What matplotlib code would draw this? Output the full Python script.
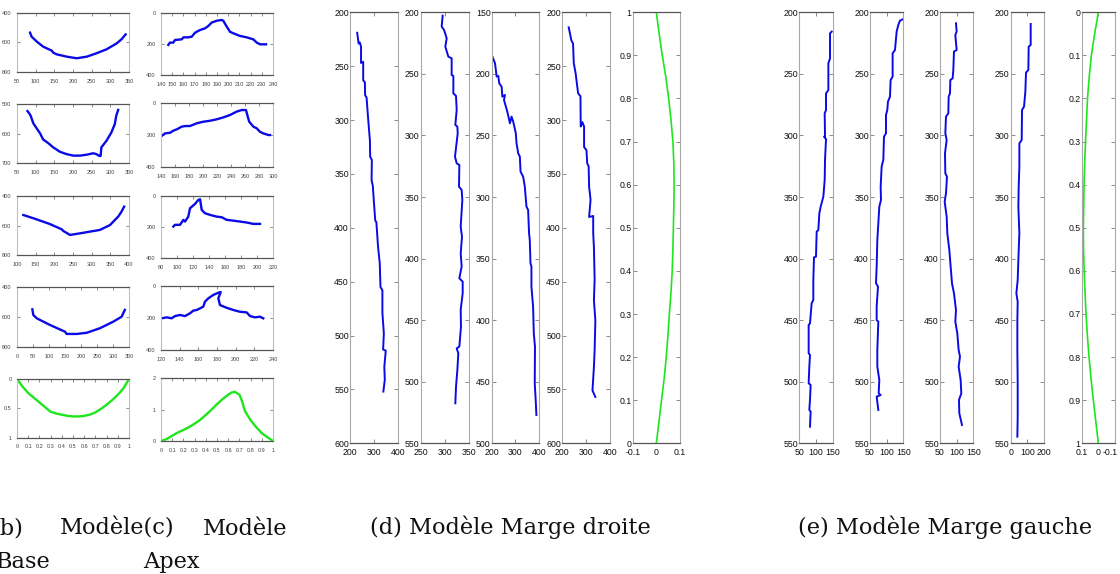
import matplotlib
matplotlib.use("Agg")
import matplotlib.pyplot as plt
import matplotlib.transforms as mtransforms
from matplotlib.ticker import FuncFormatter

plt.rcParams['axes.unicode_minus'] = False

W, H = 1120, 574

# ---------------- data : (b) Modèle Base ----------------
b1_x = [85, 89, 103, 120, 143, 147, 156, 183, 210, 237, 263, 290, 317, 330, 341]
b1_y = [535, 562, 596, 630, 657, 671, 682, 698, 709, 698, 675, 648, 608, 580, 547]
b2_x = [78, 83, 87, 89, 94, 103, 112, 120, 134, 147, 165, 183, 201, 219, 236, 254, 263, 270, 274, 276, 290, 303, 312, 316, 321]
b2_y = [524, 532, 541, 549, 566, 583, 600, 620, 633, 647, 662, 670, 675, 675, 672, 667, 670, 676, 676, 647, 624, 596, 568, 539, 520]
b3_x = [117, 144, 188, 220, 224, 242, 269, 322, 349, 371, 380, 387]
b3_y = [529, 551, 590, 626, 637, 664, 653, 630, 597, 540, 506, 472]
b4_x = [48, 51, 62, 103, 150, 155, 187, 218, 259, 301, 327, 332, 337]
b4_y = [549, 587, 609, 653, 698, 713, 713, 705, 675, 631, 598, 575, 553]
b5_x = [0, 0.05, 0.1, 0.15, 0.2, 0.25, 0.3, 0.35, 0.4, 0.45, 0.5, 0.55, 0.6, 0.65, 0.7, 0.75, 0.8, 0.85, 0.9, 0.95, 1.0]
b5_y = [0, 0.13, 0.24, 0.32, 0.40, 0.48, 0.56, 0.59, 0.61, 0.63, 0.64, 0.64, 0.63, 0.61, 0.57, 0.51, 0.44, 0.36, 0.27, 0.16, 0]

# ---------------- data : (c) Modèle Apex ----------------
c1_x = [146.5, 148, 151, 152.5, 158.5, 160, 164.4, 167.4, 170.4, 174.8, 179.3, 182.2, 185.2, 189.7, 194.2, 195.6, 198.7, 201.6, 204.6, 210.5, 216.5, 222.4, 225.5, 228.4, 233.8]
c1_y = [206, 191, 191, 174, 170, 157, 157, 153, 127, 110, 99, 84, 62, 50, 45, 50, 88, 121, 131, 148, 157, 170, 191, 202, 202]
c2_x = [141, 145.7, 152.9, 157.6, 162.4, 169.6, 174.3, 181.4, 191, 200.4, 210, 219.6, 229, 238.6, 248, 255.3, 261.4, 263.3, 266, 268, 272, 276.7, 281.4, 286.1, 293.3, 295.7]
c2_y = [206, 190, 186, 173, 165, 148, 144, 144, 127, 117, 111, 102, 90, 75, 54, 44, 44, 75, 117, 127, 148, 158, 180, 190, 200, 200]
c3_x = [95.4, 97.5, 103.8, 107.9, 110, 114.1, 116.3, 122.5, 126.6, 128.8, 130.9, 135, 141.3, 149.6, 155.9, 162.1, 170.4, 178.8, 187.1, 195.4, 203.8]
c3_y = [197, 186, 186, 154, 165, 133, 79, 51, 26, 21, 90, 111, 122, 133, 137, 154, 159, 165, 171, 180, 180]
c4_x = [120.7, 126, 131.4, 135, 140.3, 145.7, 151, 154.6, 158.2, 161.8, 165.3, 167.1, 170.7, 176, 181.4, 184, 181.4, 183.2, 190.3, 197.5, 204.6, 211.8, 215.4, 220.7, 226, 229.6]
c4_y = [202, 196, 202, 188, 181, 188, 171, 154, 150, 140, 129, 98, 77, 56, 42, 38, 77, 119, 136, 150, 161, 165, 188, 196, 192, 202]
c5_x = [0, 0.05, 0.1, 0.15, 0.2, 0.25, 0.3, 0.35, 0.4, 0.45, 0.5, 0.55, 0.6, 0.63, 0.66, 0.7, 0.72, 0.75, 0.8, 0.85, 0.9, 0.95, 1.0]
c5_y = [0, 0.06, 0.17, 0.27, 0.35, 0.44, 0.55, 0.67, 0.83, 0.99, 1.17, 1.33, 1.47, 1.54, 1.56, 1.47, 1.30, 0.95, 0.66, 0.44, 0.25, 0.12, 0]

# ---------------- data : (d) Modèle Marge droite ----------------
d1_x = [230, 236, 241, 246, 246, 255, 255, 262, 263, 269, 272, 276, 283, 284, 291, 290, 295, 299, 305, 310, 313, 317, 324, 327, 335, 335, 341, 338, 349, 343, 345, 339]
d1_y = [219, 229, 228, 232, 247, 246, 263, 265, 277, 279, 288, 300, 319, 334, 337, 356, 361, 374, 393, 395, 405, 418, 433, 455, 458, 479, 498, 513, 514, 529, 541, 552]
d2_x = [295.5, 293.4, 298.3, 303.8, 301, 307.2, 314.1, 314.1, 317.6, 317.6, 323.1, 324.5, 321.7, 325.9, 326.6, 321, 324.5, 330, 329.3, 334.8, 336.2, 332.8, 335.5, 332.8, 334.8, 330, 336.9, 336.9, 332.8, 333.4, 330, 324.5, 327.9, 325.9, 323.1, 321.7]
d2_y = [202.7, 211.6, 214.3, 221.1, 227.9, 236, 237.4, 250.9, 251.7, 265.8, 267.9, 279.3, 291.5, 292.8, 298.3, 317.2, 322.6, 324, 341.6, 344.3, 352.4, 374.1, 382.2, 395.7, 406.5, 416, 418.7, 428.2, 441.7, 455.3, 471.5, 472.9, 476.9, 490.5, 504, 517.5]
d3_x = [204, 214, 221, 228, 232, 242, 245, 256, 252, 266, 274, 277, 284, 291, 302, 305, 312, 319, 322, 333, 340, 347, 354, 358, 361, 364, 368, 368, 375, 378, 383, 382, 386, 389]
d3_y = [186.5, 191.4, 202.2, 201.7, 207.7, 210.4, 218.5, 217.1, 221.2, 230.7, 237.4, 240.1, 234.7, 238.8, 248.3, 256.4, 264.5, 267.2, 279.4, 283.5, 291.6, 307.8, 310.5, 329.5, 334.9, 353.8, 356.5, 372.8, 389, 410.7, 421.5, 451.3, 464.8, 477]
d4_x = [228, 239, 246, 249, 257, 267, 277, 278, 285, 292, 292, 302, 305, 311, 313, 319, 313, 330, 330, 333, 336, 333, 339, 336, 333, 327, 339]
d4_y = [214, 226, 229, 247, 257, 275, 278, 306, 302, 306, 325, 328, 340, 343, 362, 374, 390, 389, 405, 418, 448, 467, 486, 513, 529, 551, 557]
d5_y = [0, 0.05, 0.1, 0.15, 0.2, 0.25, 0.3, 0.35, 0.4, 0.45, 0.5, 0.55, 0.6, 0.65, 0.7, 0.75, 0.8, 0.85, 0.9, 0.95, 1.0]
d5_x = [0, 0.011, 0.022, 0.033, 0.042, 0.049, 0.055, 0.062, 0.067, 0.070, 0.072, 0.074, 0.075, 0.074, 0.070, 0.062, 0.052, 0.040, 0.025, 0.012, 0]

# ---------------- data : (e) Modèle Marge gauche ----------------
e1_x = [147, 142, 142, 137, 137, 130, 130, 126, 127, 124, 130, 127, 126, 122, 114, 110, 107, 102, 100, 94, 92, 92, 87, 82, 78, 78, 82, 80, 78, 84, 82, 80, 84, 82]
e1_y = [215.7, 217, 237.4, 241.4, 263.1, 265.8, 279.3, 282, 301, 301, 303, 319.9, 336.2, 349.7, 357.8, 363.2, 376.8, 378.1, 398.4, 399, 417.4, 433.6, 436.3, 452.6, 453.9, 476.9, 478.3, 487.8, 501.3, 502.6, 514.8, 522.9, 524.3, 536.5]
e2_x = [148, 140, 135, 130, 125, 118, 118, 112, 110, 104, 102, 98, 98, 92, 90, 85, 82, 83, 78, 72, 70, 68, 74, 70, 70, 75, 72, 72, 78, 76, 82, 70, 75]
e2_y = [205.7, 206.8, 210.3, 215.7, 230.6, 233.3, 252.2, 255, 268.5, 272.5, 279.3, 283.4, 298.3, 301, 319.9, 325.3, 341.6, 352.4, 357.8, 384.9, 406.5, 420, 422.8, 439, 449.9, 451.2, 474.2, 487.7, 498.6, 509.4, 510.8, 512.1, 522.9]
e3_x = [98, 100, 96, 100, 92, 90, 88, 81, 80, 76, 75, 68, 66, 70, 65, 66, 71, 68, 64, 70, 72, 78, 82, 86, 92, 98, 96, 102, 106, 110, 106, 112, 114, 107, 108, 116]
e3_y = [208.9, 215.7, 218.4, 230.6, 231.9, 246.8, 253.6, 255, 265.8, 268.5, 282, 284.7, 298.3, 303.7, 314.5, 330.8, 333.5, 347, 353.8, 365.9, 379.5, 393, 406.5, 420.1, 428.2, 441.7, 451.2, 460.7, 474.2, 479.6, 487.8, 498.6, 509.4, 514.8, 525.6, 535.1]
e4_x = [120, 120, 108, 106, 92, 88, 80, 68, 66, 52, 52, 48, 46, 52, 46, 42, 34, 42, 40, 40, 42, 42, 40]
e4_y = [209.5, 226.5, 227.9, 246.8, 249, 264.4, 276.6, 279.3, 303.7, 306.4, 325.3, 341.6, 357.8, 379.5, 401.1, 417.4, 428.2, 435, 449.9, 474.2, 501.3, 528.4, 544.6]
e5_y = [0, 0.05, 0.1, 0.15, 0.2, 0.25, 0.3, 0.35, 0.4, 0.45, 0.5, 0.55, 0.6, 0.65, 0.7, 0.75, 0.8, 0.85, 0.9, 0.95, 1.0]
e5_x = [0, 0.022, 0.042, 0.055, 0.065, 0.071, 0.077, 0.082, 0.086, 0.088, 0.090, 0.089, 0.085, 0.080, 0.074, 0.066, 0.056, 0.044, 0.030, 0.015, 0]

captions = ["(b)", "Modèle(c)", "Modèle", "Base", "Apex",
            "(d) Modèle Marge droite", "(e) Modèle Marge gauche"]

BLUE = '#0a0ae6'
GREEN = '#1ee61e'

fig = plt.figure(figsize=(W / 100, H / 100), dpi=100)
fig.patch.set_facecolor('white')

fmt = FuncFormatter(lambda v, p: '%g' % round(v, 6))
TICKFONT = ['Liberation Sans', 'DejaVu Sans']


def add_ax(l, t, r, b):
    return fig.add_axes([l / W, 1 - b / H, (r - l) / W, (b - t) / H])


def style(ax, xlim, xticks, ylim, yticks, small):
    ax.set_xlim(*xlim)
    ax.set_ylim(*ylim)
    ax.set_xticks(xticks)
    ax.set_yticks(yticks)
    ax.xaxis.set_major_formatter(fmt)
    ax.yaxis.set_major_formatter(fmt)
    fs = 4.0 if small else 6.3
    ax.tick_params(direction='in', top=True, right=True, length=2.5 if small else 3,
                   width=0.6, colors='#777777', labelcolor='#444444' if small else '#111111',
                   labelsize=fs)
    ax.tick_params(axis='y', pad=4 if small else 0.8)
    ax.tick_params(axis='x', pad=5 if small else 3.2)
    for lab in ax.get_xticklabels() + ax.get_yticklabels():
        lab.set_family(TICKFONT)
    for s in ['top', 'bottom']:
        ax.spines[s].set_color('#555555')
        ax.spines[s].set_linewidth(0.9)
    for s in ['left', 'right']:
        ax.spines[s].set_color('#c0c0c0' if small else '#a8a8a8')
        ax.spines[s].set_linewidth(0.8)


# ----- (b) and (c) columns -----
b_rows = [(12.7, 71.7), (104, 163), (196, 255), (287, 347), (379, 437.5)]
c_rows = [(13, 75), (103, 167), (196, 258), (286, 350), (378, 441)]

b_specs = [
    (b1_x, b1_y, (50, 350), list(range(50, 351, 50)), (800, 400), [400, 600, 800], BLUE),
    (b2_x, b2_y, (50, 350), list(range(50, 351, 50)), (700, 500), [500, 600, 700], BLUE),
    (b3_x, b3_y, (100, 400), list(range(100, 401, 50)), (800, 400), [400, 600, 800], BLUE),
    (b4_x, b4_y, (0, 350), list(range(0, 351, 50)), (800, 400), [400, 600, 800], BLUE),
    (b5_x, b5_y, (0, 1), [i / 10 for i in range(11)], (1, 0), [0, 0.5, 1], GREEN),
]
c_specs = [
    (c1_x, c1_y, (140, 240), list(range(140, 241, 10)), (400, 0), [0, 200, 400], BLUE),
    (c2_x, c2_y, (140, 300), list(range(140, 301, 20)), (400, 0), [0, 200, 400], BLUE),
    (c3_x, c3_y, (80, 220), list(range(80, 221, 20)), (400, 0), [0, 200, 400], BLUE),
    (c4_x, c4_y, (120, 240), list(range(120, 241, 20)), (400, 0), [0, 200, 400], BLUE),
    (c5_x, c5_y, (0, 1), [i / 10 for i in range(11)], (0, 2), [0, 1, 2], GREEN),
]

for (t, b), spec in zip(b_rows, b_specs):
    ax = add_ax(17, t, 129, b)
    x, y, xl, xt, yl, yt, col = spec
    ax.plot(x, y, color=col, lw=1.7, solid_joinstyle='round')
    style(ax, xl, xt, yl, yt, True)

for (t, b), spec in zip(c_rows, c_specs):
    ax = add_ax(161, t, 273, b)
    x, y, xl, xt, yl, yt, col = spec
    ax.plot(x, y, color=col, lw=1.7, solid_joinstyle='round')
    style(ax, xl, xt, yl, yt, True)

# ----- (d) and (e) columns -----
TOP, BOT = 12.3, 443.3
d_lr = [(350, 398), (420.7, 469), (491.7, 539), (562, 610), (632.7, 680)]
e_lr = [(799.3, 832.7), (870, 903.3), (940, 973.3), (1010.7, 1044), (1081.7, 1115)]
tenths = [i / 10 for i in range(11)]

d_specs = [
    (d1_x, d1_y, (200, 400), [200, 300, 400], (600, 200), list(range(200, 601, 50)), BLUE),
    (d2_x, d2_y, (250, 350), [250, 300, 350], (550, 200), list(range(200, 551, 50)), BLUE),
    (d3_x, d3_y, (200, 400), [200, 300, 400], (500, 150), list(range(150, 501, 50)), BLUE),
    (d4_x, d4_y, (200, 400), [200, 300, 400], (600, 200), list(range(200, 601, 50)), BLUE),
    (d5_x, d5_y, (-0.1, 0.1), [-0.1, 0, 0.1], (0, 1), tenths, GREEN),
]
e_specs = [
    (e1_x, e1_y, (50, 150), [50, 100, 150], (550, 200), list(range(200, 551, 50)), BLUE),
    (e2_x, e2_y, (50, 150), [50, 100, 150], (550, 200), list(range(200, 551, 50)), BLUE),
    (e3_x, e3_y, (50, 150), [50, 100, 150], (550, 200), list(range(200, 551, 50)), BLUE),
    (e4_x, e4_y, (0, 200), [0, 100, 200], (550, 200), list(range(200, 551, 50)), BLUE),
    (e5_x, e5_y, (0.1, -0.1), [0.1, 0, -0.1], (1, 0), tenths, GREEN),
]

last_ax = None
for (l, r), spec in zip(d_lr + e_lr, d_specs + e_specs):
    ax = add_ax(l, TOP, r, BOT)
    x, y, xl, xt, yl, yt, col = spec
    ax.plot(x, y, color=col, lw=1.4 if col == BLUE else 1.2, solid_joinstyle='round')
    style(ax, xl, xt, yl, yt, False)
    last_ax = ax

# nudge the right-most tick label a few pixels left so it stays on the canvas
lab = last_ax.get_xticklabels()[-1]
lab.set_transform(lab.get_transform() +
                  mtransforms.ScaledTranslation(-5 / 100, 0, fig.dpi_scale_trans))

# ----- captions -----
CAP = dict(family='DejaVu Serif', fontsize=16.2, color='#111111', va='baseline', ha='left')


def ftext(x, y, s, **kw):
    fig.text(x / W, 1 - y / H, s, **kw)


ftext(-9, 535, captions[0], **CAP)
ftext(60, 535, captions[1], **CAP)
ftext(203, 535, captions[2], **CAP)
ftext(-4, 568, captions[3], **CAP)
ftext(143, 568, captions[4], **CAP)
ftext(510.5, 534, captions[5], **{**CAP, 'ha': 'center'})
ftext(945, 534, captions[6], **{**CAP, 'ha': 'center'})

fig.savefig('out.png', dpi=100, facecolor='white')
